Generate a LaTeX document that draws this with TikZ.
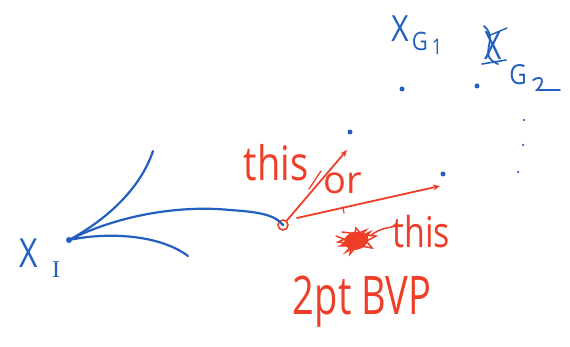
\documentclass[tikz,border=0pt]{standalone}
\usepackage{fontspec}
\usepackage{graphicx}
\setmainfont{Open Sans}
\newfontfamily\serifface{Liberation Serif}
\usetikzlibrary{arrows.meta}
\definecolor{pen}{RGB}{35,95,190}
\definecolor{ink}{RGB}{238,62,40}
\newcommand{\talltext}[2]{\scalebox{1}[#1]{#2}}
\tikzset{
  blueline/.style={draw=pen, line width=2.2pt, line cap=round},
  redline/.style={draw=ink, line width=1.8pt, line cap=round},
  redarrow/.style={redline, -{Stealth[length=7pt,width=6pt]}},
  dotpt/.style={circle, fill=pen, inner sep=0pt, minimum size=5pt},
  smalldot/.style={circle, fill=pen, inner sep=0pt, minimum size=2.5pt},
  bluetext/.style={text=pen, inner sep=0pt, font=\fontsize{30}{30}\selectfont},
  redtext/.style={text=ink, inner sep=0pt, font=\fontsize{30}{30}\selectfont},
}
\begin{document}
\begin{tikzpicture}[x=1pt,y=-1pt]
\useasboundingbox (0,0) rectangle (570,347);
% start point X_I
\node[dotpt, minimum size=6pt] (xi) at (69,240) {};
\node[bluetext, font=\fontsize{32}{32}\selectfont] (xil) at (29,253) {\talltext{1.25}{X}};
\node[bluetext, font=\fontsize{24}{24}\serifface] (xisub) at (56,270) {I};
% curves
\coordinate (c1) at (153,151);
\coordinate (c3) at (188,256);
\node[circle, draw=ink, line width=1.6pt, inner sep=0pt, minimum size=10pt] (o) at (283,225) {};
\draw[blueline] (xi) .. controls (105,220) and (140,190) .. (c1);
\draw[blueline] (xi) .. controls (120,215) and (180,205) .. (230,210) .. controls (260,212) and (275,215) .. (o.center);
\draw[blueline] (xi) .. controls (110,232) and (160,235) .. (c3);
\draw[blueline, line width=1pt] (xi) -- ++(9,-3);
% goal dots
\node[dotpt] (g1) at (402,89) {};
\node[dotpt] (g2) at (477,86) {};
\node[dotpt] (ga) at (350,132) {};
\node[dotpt] (gb) at (443,174) {};
\node[smalldot] (v1) at (524,120) {};
\node[smalldot] (v2) at (523,145) {};
\node[smalldot] (v3) at (518,172) {};
% labels of goals
\node[bluetext] (xg1) at (400,29) {\talltext{1.2}{X}};
\node[bluetext, font=\fontsize{22}{22}\selectfont] (g1l) at (420,41) {\talltext{1.15}{G}};
\node[bluetext, font=\fontsize{18}{18}\selectfont] (g1s) at (437,47) {\talltext{1.2}{1}};
\node[bluetext] (xg2) at (493,46) {\talltext{1.3}{X}};
\draw[blueline, line width=1.8pt] (484,26) .. controls (500,40) and (476,55) .. (498,64);
\draw[blueline, line width=1.6pt] (482,64) -- (506,60);
\draw[blueline, line width=1.4pt] (488,36) -- (507,28);
\node[bluetext, font=\fontsize{24}{24}\selectfont] (g2l) at (518,75) {\talltext{1.15}{G}};
\draw[blueline, line width=1.8pt] (533,80) .. controls (543,74) and (545,82) .. (537,90) -- (560,90);
% red arrows
\draw[redarrow] (o) -- (347,150);
\draw[redarrow] (297,218) -- (440,186);
\draw[redline, line width=1.3pt] (309,189) -- (321,171);
\draw[redline, line width=1.2pt] (343,207) -- (344,213);
% red text
\node[redtext, font=\fontsize{38}{38}\selectfont] (t1) at (276,163) {\talltext{1.25}{this}};
\node[redtext, font=\fontsize{38}{38}\selectfont] (orl) at (343,183) {or};
\node[redtext, font=\fontsize{34}{34}\selectfont] (t2) at (421,232) {\talltext{1.25}{this}};
% scribble
\fill[ink] (345,238) .. controls (350,230) and (362,230) .. (368,236)
  .. controls (370,244) and (362,250) .. (354,250) .. controls (346,249) and (342,244) .. (345,238) -- cycle;
\draw[redline, line width=1.5pt]
  (336,236) -- (362,246) -- (340,246) -- (370,232) -- (350,254) -- (356,228)
  -- (372,248) -- (338,242) -- (366,230) -- (346,252) -- (376,236) -- (342,232)
  (370,236) .. controls (380,228) and (388,228) .. (396,226);
% 2pt BVP
\node[redtext, font=\fontsize{38}{38}\selectfont] (bvp) at (362,302) {\talltext{1.4}{2pt BVP}};
\end{tikzpicture}
\end{document}
